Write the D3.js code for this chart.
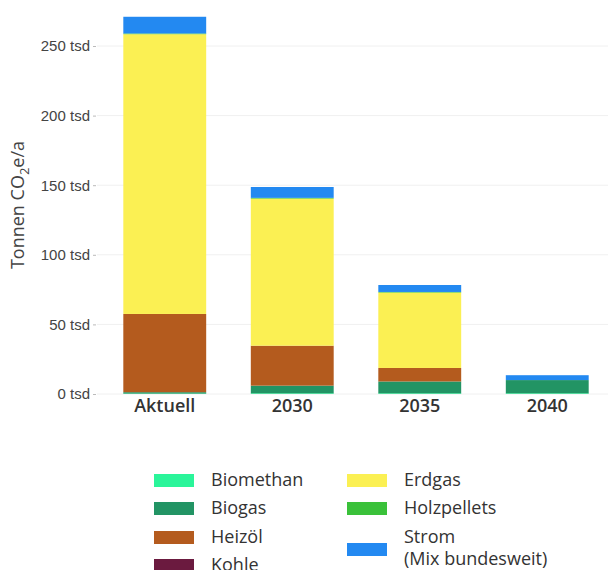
<!DOCTYPE html>
<html>
<head>
<meta charset="utf-8">
<script src="https://cdn.jsdelivr.net/npm/d3@7"></script>
<style>
  body { margin: 0; background: #fff; }
  svg { display: block; font-family: "Open Sans", sans-serif; }
</style>
</head>
<body>
<svg id="chart" width="608" height="570"></svg>
<script>
const years = ['Aktuell', '2030', '2035', '2040']
const carriers = ['Biomethan', 'Biogas', 'Heizöl', 'Kohle', 'Erdgas', 'Holzpellets', 'Strom']
const colors = ['#2af59a', '#229464', '#b45b1e', '#6b1a3f', '#fbf053', '#3ac13a', '#2389f1']

// values in tsd t CO2e/a, one per year
const biomethan = [0.3, 0.5, 0.5, 0.5]
const biogas = [1.0, 5.5, 8.5, 9.5]
const heizoel = [56.2, 28.7, 9.7, 0]
const kohle = [0, 0, 0, 0]
const erdgas = [201, 105.7, 54.2, 0]
const holzpellets = [0.5, 0.5, 0.4, 0]
const strom = [12, 7.8, 5, 3.5]

const yTicks = [0, 50, 100, 150, 200, 250]

const series = [biomethan, biogas, heizoel, kohle, erdgas, holzpellets, strom]
const rows = years.map((y, i) => {
	const row = { year: y }
	carriers.forEach((c, j) => { row[c] = series[j][i] })
	return row
})

const $svg = d3.select('#chart')

const scaleX = d3.scaleBand()
	.domain(years)
	.range([101, 611])
	.paddingInner(0.35)
	.paddingOuter(0.175)

const scaleY = d3.scaleLinear()
	.domain([0, 250])
	.range([394, 46])

const colorScale = d3.scaleOrdinal().domain(carriers).range(colors)

// grid
$svg.append('g')
	.selectAll('line')
	.data(yTicks)
	.join('line')
	.attr('x1', 97)
	.attr('x2', 608)
	.attr('y1', d => scaleY(d))
	.attr('y2', d => scaleY(d))
	.attr('stroke', '#f0f0f0')

// y axis
const yAxis = d3.axisLeft(scaleY)
	.tickValues(yTicks)
	.tickSize(3)
	.tickPadding(3)
	.tickFormat(d => `${d} tsd`)

const $gy = $svg.append('g')
	.attr('transform', 'translate(96,0)')
	.call(yAxis)
$gy.select('.domain').remove()
$gy.selectAll('.tick line').attr('stroke', '#bbb')
$gy.selectAll('.tick text')
	.attr('fill', '#444')
	.style('font-size', '15px')

$svg.append('text')
	.attr('transform', 'translate(24,205) rotate(-90)')
	.attr('text-anchor', 'middle')
	.attr('fill', '#444')
	.style('font-size', '18px')
	.text('Tonnen CO')
	.append('tspan')
	.attr('dy', 5)
	.style('font-size', '13px')
	.text('2')
	.select(function() { return this.parentNode })
	.append('tspan')
	.attr('dy', -5)
	.text('e/a')

// bars
const stacked = d3.stack().keys(carriers)(rows)

$svg.append('g')
	.selectAll('g')
	.data(stacked)
	.join('g')
	.attr('fill', d => colorScale(d.key))
	.selectAll('rect')
	.data(d => d)
	.join('rect')
	.attr('x', d => scaleX(d.data.year))
	.attr('width', scaleX.bandwidth())
	.attr('y', d => scaleY(d[1]))
	.attr('height', d => scaleY(d[0]) - scaleY(d[1]))

// x axis labels
$svg.append('g')
	.selectAll('text')
	.data(years)
	.join('text')
	.attr('x', d => scaleX(d) + scaleX.bandwidth() / 2)
	.attr('y', 412)
	.attr('text-anchor', 'middle')
	.attr('fill', '#333')
	.style('font-size', '18px')
	.style('font-weight', 600)
	.text(d => d)

// legend
const legendPos = [
	[154, 480], [154, 508], [154, 537], [154, 565],
	[347, 480], [347, 508], [347, 549]
]
const $legend = $svg.append('g')
	.selectAll('g')
	.data(carriers)
	.join('g')
	.attr('transform', (d, i) => `translate(${legendPos[i][0]},${legendPos[i][1]})`)

$legend.append('rect')
	.attr('x', 0)
	.attr('y', -6)
	.attr('width', 40)
	.attr('height', 13)
	.attr('fill', d => colorScale(d))

$legend.append('text')
	.attr('x', 57)
	.attr('y', 6)
	.attr('fill', '#333')
	.style('font-size', '18px')
	.each(function(d) {
		const $t = d3.select(this)
		if (d === 'Strom') {
			$t.append('tspan').attr('x', 57).attr('y', -6).text('Strom')
			$t.append('tspan').attr('x', 57).attr('y', 16).text('(Mix bundesweit)')
		} else {
			$t.text(d)
		}
	})
</script>
</body>
</html>
